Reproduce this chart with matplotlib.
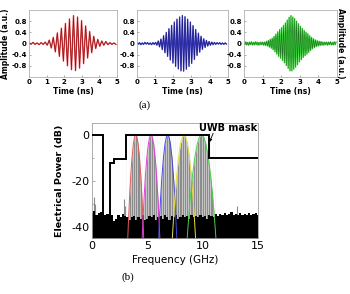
import numpy as np
import matplotlib.pyplot as plt

plt.rcParams['font.family'] = 'DejaVu Sans'
plt.rcParams['axes.unicode_minus'] = False

# ---- (a) time traces: one value per half cycle ----
red_t0, red_step = 0.0, 0.115
red_peaks = [0.03, -0.02, 0.04, -0.03, 0.02, -0.04, 0.03, -0.03, 0.05, -0.06,
             0.12, -0.16, 0.22, -0.30, 0.38, -0.46, 0.55, -0.63, 0.72, -0.80,
             0.88, -0.94, 1.00, -0.97, 0.95, -0.88, 0.82, -0.72, 0.63, -0.52,
             0.43, -0.33, 0.26, -0.18, 0.15, -0.10, 0.09, -0.06, 0.07, -0.04,
             0.03, -0.03, 0.02, -0.03]

blue_t0, blue_step = 0.0, 0.0735
blue_peaks = [0.03, -0.02, 0.03, -0.04, 0.02, -0.03, 0.04, -0.02, 0.03, -0.03,
              0.02, -0.04, 0.03, -0.03, 0.04, -0.06, 0.09, -0.12, 0.16, -0.22,
              0.28, -0.33, 0.40, -0.46, 0.53, -0.59, 0.65, -0.70, 0.77, -0.82,
              0.87, -0.91, 0.95, -0.98, 1.00, -0.99, 0.96, -0.92, 0.87, -0.82,
              0.77, -0.71, 0.64, -0.57, 0.50, -0.43, 0.37, -0.31, 0.26, -0.21,
              0.17, -0.14, 0.11, -0.09, 0.07, -0.06, 0.05, -0.04, 0.04, -0.03,
              0.03, -0.02, 0.03, -0.03, 0.02, -0.03, 0.02, -0.02]

green_t0, green_step = 0.0, 0.0505
green_peaks = [0.05, -0.04, 0.06, -0.05, 0.04, -0.06, 0.05, -0.04, 0.06, -0.05,
               0.04, -0.05, 0.06, -0.04, 0.05, -0.06, 0.04, -0.05, 0.05, -0.04,
               0.05, -0.06, 0.05, -0.07, 0.08, -0.09, 0.11, -0.13, 0.15, -0.17,
               0.19, -0.22, 0.26, -0.30, 0.34, -0.38, 0.42, -0.46, 0.50, -0.53,
               0.57, -0.61, 0.65, -0.69, 0.74, -0.79, 0.84, -0.89, 0.94, -0.98,
               1.00, -0.98, 0.95, -0.92, 0.89, -0.85, 0.80, -0.76, 0.71, -0.66,
               0.62, -0.58, 0.54, -0.50, 0.47, -0.44, 0.41, -0.38, 0.35, -0.32,
               0.28, -0.25, 0.22, -0.19, 0.17, -0.15, 0.13, -0.11, 0.10, -0.09,
               0.08, -0.07, 0.07, -0.06, 0.05, -0.06, 0.05, -0.04, 0.05, -0.06,
               0.05, -0.04, 0.06, -0.05, 0.04, -0.05, 0.06, -0.04, 0.05]

time_ticks = [0, 1, 2, 3, 4, 5]
amp_ticks = [0.8, 0.4, 0, -0.4, -0.8]
amp_labels = ['0.8', '0.4', '0', '-0.4', '-0.8']

# ---- (b) spectrum ----
mask_edges = [0, 0.96, 1.61, 1.99, 3.1, 10.6, 15]
mask_levels = [0, -50, -12.5, -10.5, 0, -10]

lobe_db = [-45, -36, -27, -18, -10, -4, -1, 0, -1, -4, -10, -18, -27, -36, -45]
lobe_freqs = [
    [3.23, 3.306, 3.392, 3.495, 3.611, 3.735, 3.843, 3.95, 4.057, 4.165, 4.289, 4.405, 4.508, 4.594, 4.67],
    [4.53, 4.615, 4.71, 4.824, 4.953, 5.092, 5.211, 5.33, 5.449, 5.568, 5.707, 5.836, 5.95, 6.045, 6.13],
    [6.02, 6.107, 6.204, 6.322, 6.454, 6.596, 6.718, 6.84, 6.962, 7.084, 7.226, 7.358, 7.476, 7.573, 7.66],
    [7.26, 7.371, 7.496, 7.646, 7.815, 7.997, 8.154, 8.31, 8.466, 8.623, 8.805, 8.974, 9.124, 9.249, 9.36],
    [8.6, 8.738, 8.892, 9.078, 9.288, 9.513, 9.706, 9.9, 10.094, 10.287, 10.512, 10.722, 10.908, 11.062, 11.2],
]
lobe_colors = ['#e05a5a', '#e040d8', '#4848e0', '#e6e040', '#48d048']

comb_spacing = 0.2
comb_freqs = np.arange(3.1, 11.3, comb_spacing)

noise_freqs = np.arange(0, 15.01, 0.2)
noise_top = [-34, -33, -35, -34, -33.5, -34, -35, -34.5, -36, -35,
             -37.5, -36.5, -35, -36, -34.5, -35.5, -36, -37, -36, -35.5,
             -37, -36, -36.5, -35, -37, -36.5, -35.5, -36, -35, -37,
             -36, -35.5, -36.5, -35, -36, -37, -35.5, -36, -35, -36.5,
             -36, -35, -36, -35.5, -36.5, -35, -36, -35.5, -36, -35,
             -36, -35.5, -36.5, -35, -35.5, -36, -34.5, -35.5, -34.5, -35,
             -34, -35, -34.5, -33.5, -35, -34.5, -35, -34, -35, -34.5,
             -35, -34, -35, -34.5, -34, -35]
spike_freqs = [0.15, 0.3, 2.9, 3.0, 13.1]
spike_db = [-27, -30, -28, -31, -31]

fig = plt.figure(figsize=(3.5, 2.94), dpi=100)

# top row
panels = [
    (red_t0, red_step, red_peaks, '#e03a40', '#6a0c0c', [0.083, 0.738, 0.251, 0.228]),
    (blue_t0, blue_step, blue_peaks, '#4040d4', '#10104e', [0.391, 0.738, 0.260, 0.228]),
    (green_t0, green_step, green_peaks, '#3ee03e', '#185418', [0.697, 0.738, 0.266, 0.228]),
]
for i, (t0, step, peaks, col, dark, rect) in enumerate(panels):
    ax = fig.add_axes(rect)
    t = t0 + step * np.arange(len(peaks))
    ax.plot(t, peaks, color=col, lw=1.0)
    ax.plot(t, peaks, color=dark, lw=0.35, alpha=0.85)
    ax.set_xlim(0, 5)
    ax.set_ylim(-1.2, 1.2)
    ax.set_xticks(time_ticks)
    ax.set_yticks(amp_ticks)
    ax.set_yticklabels(amp_labels)
    ax.tick_params(labelsize=5, length=1.5, width=0.5, direction='in', pad=1.5, color='#888888')
    for lab in ax.get_xticklabels() + ax.get_yticklabels():
        lab.set_fontweight('bold')
    for sp in ax.spines.values():
        sp.set_color('#b0b0b0')
        sp.set_linewidth(0.6)
    ax.set_xlabel('Time (ns)', fontsize=5.5, fontweight='bold', labelpad=1)
    if i == 0:
        ax.set_ylabel('Amplitude (a.u.)', fontsize=5.5, fontweight='bold', labelpad=1)
    if i == 2:
        ax.yaxis.set_label_position('right')
        ax.set_ylabel('Amplitude (a.u.)', fontsize=5.5, fontweight='bold', rotation=270, labelpad=6)

fig.text(0.414, 0.643, '(a)', fontsize=8, family='Liberation Serif', ha='center', va='center')

# bottom spectrum
ax = fig.add_axes([0.263, 0.190, 0.474, 0.391])
for f, col in zip(lobe_freqs, lobe_colors):
    ax.fill_between(f, lobe_db, -50, color='#8c8c8c', lw=0, zorder=1)
ax.vlines(comb_freqs, -50, 1, color='#f2f2f2', lw=0.4, zorder=1.5)
ax.vlines(spike_freqs, -50, spike_db, color='#8a8a8a', lw=0.8, zorder=1.6)
ax.fill_between(noise_freqs, noise_top, -50, step='mid', color='black', lw=0, zorder=2)
for f, col in zip(lobe_freqs, lobe_colors):
    ax.plot(f, lobe_db, color=col, lw=0.7, zorder=3)
ax.stairs(mask_levels, mask_edges, baseline=None, color='black', lw=1.4, zorder=4)

ax.text(9.65, 0.9, 'UWB mask', fontsize=7, fontweight='bold', ha='left', va='bottom', zorder=5)
ax.annotate('', xy=(10.62, -3.2), xytext=(10.95, 0.6), zorder=5,
            arrowprops=dict(arrowstyle='-|>', color='black', lw=0.6, mutation_scale=4,
                            shrinkA=0, shrinkB=0))

ax.set_xlim(0, 15)
ax.set_ylim(-45, 5)
ax.set_xticks([0, 5, 10, 15])
ax.set_yticks([0, -20, -40])
ax.set_yticks([-10, -30], minor=True)
ax.tick_params(labelsize=8, length=2, width=0.5, direction='in', color='#888888', pad=2)
ax.tick_params(which='minor', length=1.5, width=0.5, direction='in', color='#888888')
for sp in ax.spines.values():
    sp.set_color('#a0a0a0')
    sp.set_linewidth(0.6)
ax.set_xlabel('Frequency (GHz)', fontsize=7.5, labelpad=3)
ax.set_ylabel('Electrical Power (dB)', fontsize=6.8, fontweight='bold', labelpad=5)

fig.text(0.366, 0.058, '(b)', fontsize=8, family='Liberation Serif', ha='center', va='center')

plt.savefig('out.png', dpi=100)
plt.close()
